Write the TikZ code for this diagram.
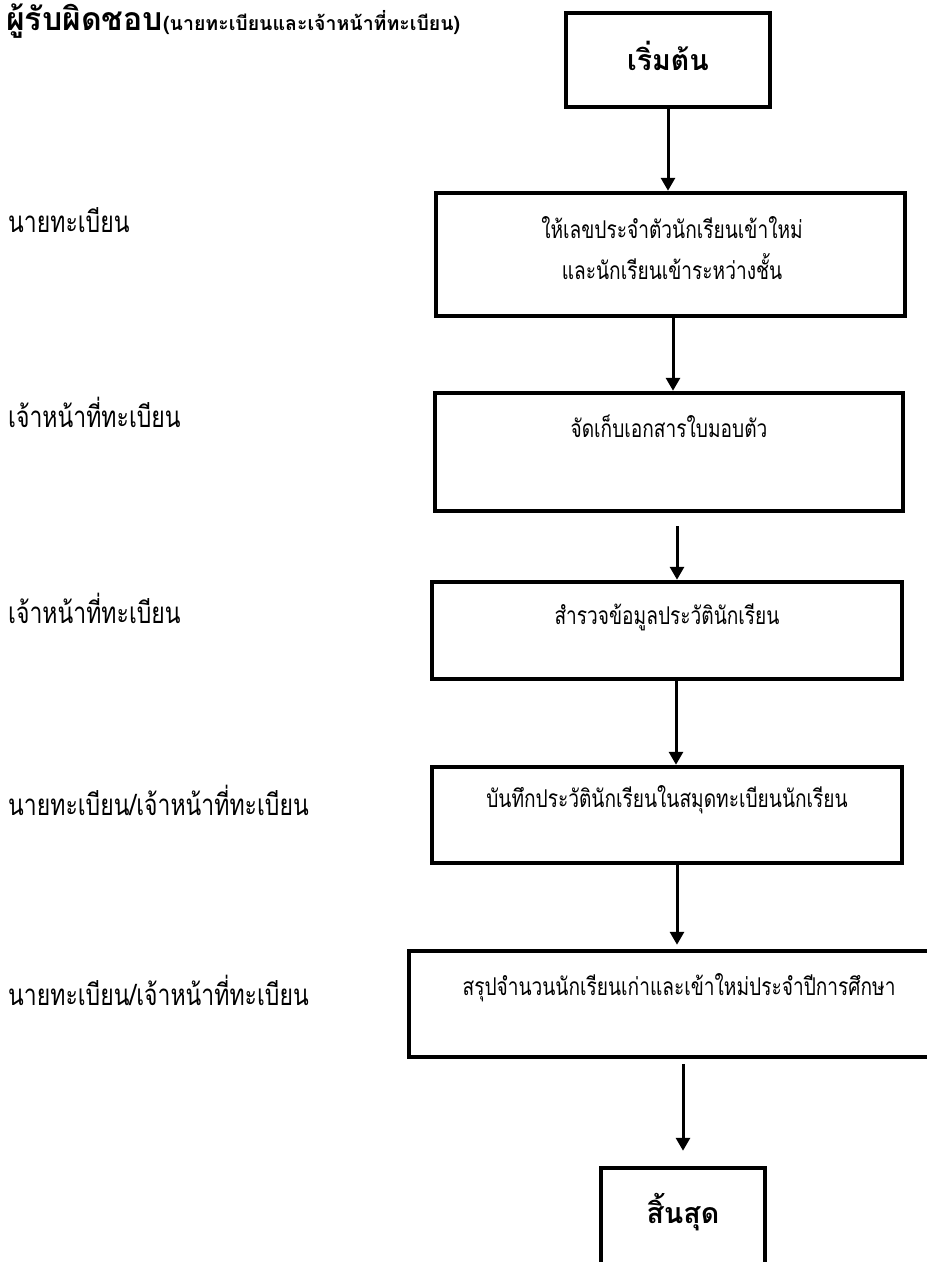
\documentclass[tikz,border=0pt]{standalone}
\usepackage{fontspec}
\setmainfont{Loma}[Script=Thai]
\newfontfamily\narrowthai{Loma}[Script=Thai, FakeStretch=0.78]
\usetikzlibrary{arrows.meta}

\tikzset{
  box/.style={draw, line width=4.5pt, inner sep=0pt},
  flow/.style={line width=3pt, -{Triangle[width=14pt,length=13pt]}},
  steptext/.style={inner sep=0pt, align=center, font=\narrowthai\fontsize{24.5}{41}\selectfont},
  termtext/.style={inner sep=0pt, font=\bfseries\fontsize{28.5}{30}\selectfont},
  who/.style={inner sep=0pt, anchor=west, font=\narrowthai\fontsize{29.5}{30}\selectfont}
}

\begin{document}
\begin{tikzpicture}[x=1pt,y=-1pt]

% page frame
\clip (0,0) rectangle (927,1262);

% Header
\node[inner sep=0pt, anchor=west] (head) at (6,21)
  {\bfseries\fontsize{32}{33}\selectfont ผู้รับผิดชอบ\fontsize{19.5}{20}\selectfont(นายทะเบียนและเจ้าหน้าที่ทะเบียน)};

% Boxes of the steps
\node[box, minimum width=204, minimum height=94] (start) at (668,60) {};
\node[box, minimum width=469, minimum height=123] (b1) at (670.5,254.5) {};
\node[box, minimum width=468, minimum height=118] (b2) at (669,452) {};
\node[box, minimum width=470, minimum height=97] (b3) at (667,630.5) {};
\node[box, minimum width=470, minimum height=96] (b4) at (667,815) {};
\node[box, minimum width=531, minimum height=106] (b5) at (674.5,1004) {};
\node[box, minimum width=164, minimum height=132] (end) at (683,1234) {};

% Texts in the boxes
\node[termtext] (tstart) at (668,56) {เริ่มต้น};
\node[steptext] (t1) at (672,248) {ให้เลขประจำตัวนักเรียนเข้าใหม่\\และนักเรียนเข้าระหว่างชั้น};
\node[steptext] (t2) at (669,426) {จัดเก็บเอกสารใบมอบตัว};
\node[steptext] (t3) at (667,617) {สำรวจข้อมูลประวัตินักเรียน};
\node[steptext] (t4) at (667,800) {บันทึกประวัตินักเรียนในสมุดทะเบียนนักเรียน};
\node[steptext] (t5) at (679,988) {สรุปจำนวนนักเรียนเก่าและเข้าใหม่ประจำปีการศึกษา};
\node[termtext] (tend) at (683,1212) {สิ้นสุด};

% Who is in charge
\node[who] (w1) at (8,220) {นายทะเบียน};
\node[who] (w2) at (8,412) {เจ้าหน้าที่ทะเบียน};
\node[who] (w3) at (8,608) {เจ้าหน้าที่ทะเบียน};
\node[who] (w4) at (8,800) {นายทะเบียน/เจ้าหน้าที่ทะเบียน};
\node[who] (w5) at (8,990) {นายทะเบียน/เจ้าหน้าที่ทะเบียน};

% Arrows
\draw[flow] (start.south) -- (start.south |- b1.north);
\draw[flow] ([xshift=2.5pt]b1.south) -- ([xshift=2.5pt]b1.south |- b2.north);
\draw[flow, shorten <=13pt] ([xshift=8pt]b2.south) -- ([xshift=8pt]b2.south |- b3.north);
\draw[flow] ([xshift=9pt]b3.south) -- ([xshift=9pt]b3.south |- b4.north);
\draw[flow, shorten >=4pt] ([xshift=10pt]b4.south) -- ([xshift=10pt]b4.south |- b5.north);
\draw[flow, shorten <=5pt, shorten >=15pt] (end.north |- b5.south) -- (end.north);

\end{tikzpicture}
\end{document}
